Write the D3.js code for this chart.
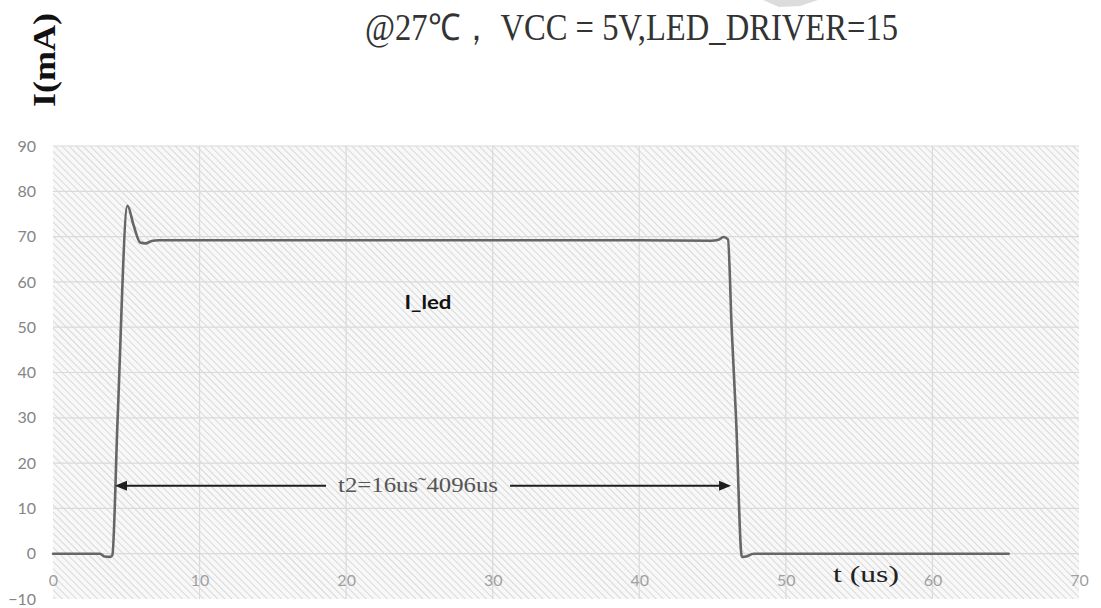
<!DOCTYPE html>
<html>
<head>
<meta charset="utf-8">
<script src="https://cdn.jsdelivr.net/npm/d3@7/dist/d3.min.js"></script>
<style>
  html, body { margin: 0; padding: 0; background: #fff; }
  svg { display: block; }
</style>
</head>
<body>
<svg id="chart" width="1101" height="608"></svg>
<script>
// LED current waveform: time (us) vs current (mA)
const timeUs    = [0, 3.2, 3.5, 3.9, 4.05, 4.4, 5.08, 5.5, 5.95, 6.3, 6.8, 7.2, 20, 40, 44.9, 45.4, 45.75, 46.05, 46.3, 46.6, 47.0, 47.3, 47.8, 65.2];
const currentMa = [0, 0, -0.6, -0.7, -0.3, 29, 76.8, 72.5, 68.7, 68.5, 69.1, 69.2, 69.2, 69.2, 69.1, 69.3, 69.9, 69.4, 50, 30, -0.7, -0.6, 0, 0];

const xTicks = [0, 10, 20, 30, 40, 50, 60, 70];
const yTicks = [-10, 0, 10, 20, 30, 40, 50, 60, 70, 80, 90];

// annotation: pulse width arrow
const arrowLevel = 15;
const arrowStart = 4.23;
const arrowEnd = 46.26;
const arrowText = "t2=16us\u02DC4096us";
const seriesLabel = "I_led";
const titleText = "@27\u2103\uFF0C VCC = 5V,LED_DRIVER=15";
const yTitle = "I(mA)";
const xTitle = "t (us)";

const svg = d3.select("#chart");
const plotL = 53, plotR = 1079, plotT = 146, plotB = 599;

const x = d3.scaleLinear().domain([0, 70]).range([plotL, plotR]);
const y = d3.scaleLinear().domain([-10, 90]).range([plotB, plotT]);

// hatched plot background
const defs = svg.append("defs");
const pat = defs.append("pattern")
  .attr("id", "hatch")
  .attr("patternUnits", "userSpaceOnUse")
  .attr("width", 5).attr("height", 5)
  .attr("patternTransform", "rotate(-45)");
pat.append("rect").attr("width", 5).attr("height", 5).attr("fill", "#f8f8f8");
pat.append("line").attr("x1", 0).attr("y1", 0).attr("x2", 0).attr("y2", 5)
  .attr("stroke", "#d2d2d2").attr("stroke-width", 1.6);

svg.append("rect")
  .attr("x", plotL).attr("y", plotT)
  .attr("width", plotR - plotL).attr("height", plotB - plotT)
  .attr("fill", "url(#hatch)");

// faint shape near the top edge
svg.append("polygon")
  .attr("points", "763,0 818,0 800,6 779,7")
  .attr("fill", "#dcdcdc");

// grid
const grid = svg.append("g");
grid.selectAll("line.h").data(yTicks.filter(d => d > -10)).join("line")
  .attr("class", "h")
  .attr("x1", plotL).attr("x2", plotR)
  .attr("y1", d => y(d)).attr("y2", d => y(d))
  .attr("stroke", "#dadada").attr("stroke-width", 1.2);
grid.selectAll("line.v").data(xTicks.filter(d => d > 0 && d < 70)).join("line")
  .attr("class", "v")
  .attr("y1", plotT).attr("y2", plotB)
  .attr("x1", d => x(d)).attr("x2", d => x(d))
  .attr("stroke", "#dadada").attr("stroke-width", 1.2);

// y axis labels
const yAxis = svg.append("g")
  .attr("transform", `translate(${plotL},0)`)
  .call(d3.axisLeft(y).tickValues(yTicks).tickSize(0).tickPadding(17).tickFormat(d3.format("d")));
yAxis.select(".domain").remove();
yAxis.selectAll("text")
  .attr("font-family", "Lato, 'Noto Sans', sans-serif")
  .attr("font-size", 16)
  .attr("fill", "#858585");

// x axis labels, placed at the zero line
const xAxis = svg.append("g")
  .attr("transform", `translate(0,${y(0)})`)
  .call(d3.axisBottom(x).tickValues(xTicks).tickSize(0).tickPadding(21).tickFormat(d3.format("d")));
xAxis.select(".domain").remove();
xAxis.selectAll("text")
  .attr("font-family", "Lato, 'Noto Sans', sans-serif")
  .attr("font-size", 16)
  .attr("fill", "#a0a0a0");

// current trace
const pts = timeUs.map((t, i) => [t, currentMa[i]]);
const line = d3.line()
  .x(d => x(d[0]))
  .y(d => y(d[1]))
  .curve(d3.curveMonotoneX);
svg.append("path")
  .datum(pts)
  .attr("d", line)
  .attr("fill", "none")
  .attr("stroke", "#666")
  .attr("stroke-width", 2.6)
  .attr("stroke-linejoin", "round")
  .attr("stroke-linecap", "round");

// pulse width arrow with label
const ay = y(arrowLevel);
const labelX = (x(arrowStart) + x(arrowEnd)) / 2 - 5;
const gapHalf = 92;
const arrowColor = "#1e1e1e";
svg.append("line")
  .attr("x1", x(arrowStart) + 8).attr("x2", labelX - gapHalf)
  .attr("y1", ay).attr("y2", ay)
  .attr("stroke", arrowColor).attr("stroke-width", 2);
svg.append("line")
  .attr("x1", labelX + gapHalf).attr("x2", x(arrowEnd) - 8)
  .attr("y1", ay).attr("y2", ay)
  .attr("stroke", arrowColor).attr("stroke-width", 2);
const xs = x(arrowStart), xe = x(arrowEnd);
svg.append("path")
  .attr("d", `M${xs},${ay} L${xs + 12},${ay - 5} L${xs + 12},${ay + 5} Z`)
  .attr("fill", arrowColor);
svg.append("path")
  .attr("d", `M${xe},${ay} L${xe - 12},${ay - 5} L${xe - 12},${ay + 5} Z`)
  .attr("fill", arrowColor);
svg.append("text")
  .attr("x", labelX).attr("y", ay + 6)
  .attr("text-anchor", "middle")
  .attr("font-family", "'Liberation Serif', serif")
  .attr("font-size", 20)
  .attr("textLength", 160)
  .attr("lengthAdjust", "spacingAndGlyphs")
  .attr("fill", "#555")
  .text(arrowText);

// series label
svg.append("text")
  .attr("x", 428).attr("y", 309)
  .attr("text-anchor", "middle")
  .attr("font-family", "Lato, 'Liberation Sans', sans-serif")
  .attr("font-weight", "bold")
  .attr("font-size", 18)
  .attr("textLength", 47)
  .attr("lengthAdjust", "spacingAndGlyphs")
  .attr("fill", "#111")
  .text(seriesLabel);

// x axis title
svg.append("text")
  .attr("x", 866).attr("y", 582)
  .attr("text-anchor", "middle")
  .attr("font-family", "'Liberation Serif', serif")
  .attr("font-size", 23)
  .attr("textLength", 66)
  .attr("lengthAdjust", "spacingAndGlyphs")
  .attr("fill", "#222")
  .text(xTitle);

// chart title
svg.append("text")
  .attr("x", 365).attr("y", 40)
  .attr("font-family", "'Liberation Serif', serif")
  .attr("font-size", 37)
  .attr("textLength", 533)
  .attr("lengthAdjust", "spacingAndGlyphs")
  .attr("fill", "#333")
  .text(titleText);

// y axis title (rotated)
svg.append("text")
  .attr("transform", "translate(55,60) rotate(-90)")
  .attr("text-anchor", "middle")
  .attr("font-family", "'Liberation Serif', serif")
  .attr("font-weight", "bold")
  .attr("font-size", 31)
  .attr("textLength", 94)
  .attr("lengthAdjust", "spacingAndGlyphs")
  .attr("fill", "#111")
  .text(yTitle);
</script>
</body>
</html>
